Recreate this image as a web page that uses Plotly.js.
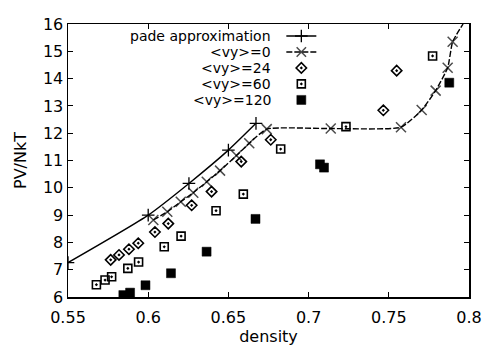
<!DOCTYPE html>
<html>
<head>
<meta charset="utf-8">
<script src="https://cdn.plot.ly/plotly-3.0.1.min.js"></script>
<style>html,body{margin:0;padding:0;background:#fff;}#chart{width:484px;height:348px;}</style>
</head>
<body>
<div id="chart"></div>
<script>
// Series names
const seriesNames = ['pade approximation', '<vy>=0', '<vy>=24', '<vy>=60', '<vy>=120'];

// pade approximation
const padeX = [0.55, 0.6, 0.6254, 0.65, 0.6672];
const padeY = [7.26, 9.0, 10.16, 11.38, 12.36];

// <vy>=0
const vy0X = [0.6032, 0.6119, 0.6203, 0.6281, 0.6365, 0.6448, 0.655, 0.663, 0.6739, 0.7138, 0.7576, 0.7705, 0.7792, 0.7867, 0.7898, 0.7963];
const vy0Y = [8.82, 9.12, 9.49, 9.82, 10.22, 10.63, 11.18, 11.63, 12.15, 12.17, 12.22, 12.85, 13.56, 14.4, 15.35, 16.0];

// <vy>=24
const vy24X = [0.5766, 0.5818, 0.588, 0.5938, 0.6042, 0.6125, 0.6271, 0.6395, 0.658, 0.6764, 0.7466, 0.7549];
const vy24Y = [7.36, 7.54, 7.75, 7.97, 8.38, 8.69, 9.36, 9.86, 10.96, 11.76, 12.84, 14.29];

// <vy>=60
const vy60X = [0.5677, 0.5731, 0.5772, 0.5873, 0.594, 0.61, 0.6205, 0.6423, 0.6593, 0.6826, 0.7233, 0.7773];
const vy60Y = [6.45, 6.62, 6.74, 7.05, 7.28, 7.84, 8.23, 9.16, 9.77, 11.42, 12.24, 14.83];

// <vy>=120
const vy120X = [0.5845, 0.5887, 0.5983, 0.6142, 0.6364, 0.6669, 0.7071, 0.7096, 0.7877];
const vy120Y = [6.07, 6.16, 6.43, 6.87, 7.66, 8.86, 10.86, 10.74, 13.85];

// Axis ticks
const xTicks = [0.55, 0.6, 0.65, 0.7, 0.75, 0.8];
const xTickLabels = ['0.55', '0.6', '0.65', '0.7', '0.75', '0.8'];
const yTicks = [6, 7, 8, 9, 10, 11, 12, 13, 14, 15, 16];

const FONT = 'DejaVu Sans, Arial, sans-serif';
const black = '#000';

// the final vy=0 point only continues the line out of the frame: no marker there
const vy0Sizes = vy0X.map((_, i) => (i === vy0X.length - 1 ? 0 : 10));

const traces = [
  {
    x: padeX, y: padeY, name: ' ', legend: 'legend',
    mode: 'lines+markers', line: {color: black, width: 1.4, shape: 'spline', smoothing: 0.6},
    marker: {symbol: 'cross-thin-open', size: 9, color: black, line: {color: black, width: 1.3}}
  },
  {
    x: vy0X, y: vy0Y, name: ' ', legend: 'legend2',
    mode: 'lines+markers', line: {color: black, width: 1.4, dash: '6px,2px', shape: 'spline', smoothing: 0.5},
    marker: {symbol: 'x-thin-open', size: vy0Sizes, color: black, line: {color: black, width: 1.5}}
  },
  {
    x: vy24X, y: vy24Y, name: ' ', legend: 'legend3',
    mode: 'markers',
    marker: {symbol: 'diamond-open-dot', size: 8, color: black, line: {color: black, width: 1.6}}
  },
  {
    x: vy60X, y: vy60Y, name: ' ', legend: 'legend4',
    mode: 'markers',
    marker: {symbol: 'square-open-dot', size: 8, color: black, line: {color: black, width: 1.6}}
  },
  {
    x: vy120X, y: vy120Y, name: ' ', legend: 'legend5',
    mode: 'markers',
    marker: {symbol: 'square', size: 9, color: black, line: {color: black, width: 0.5}}
  }
];

// legend rows (paper coordinates of plot area)
const legendRowY = [0.956, 0.8975, 0.839, 0.7805, 0.722];
const legendX = 0.532;
const legendTextX = 0.509;
const legendCommon = (yy) => ({
  x: legendX, y: yy, xanchor: 'left', yanchor: 'middle',
  bgcolor: 'rgba(0,0,0,0)', borderwidth: 0, font: {family: FONT, size: 8, color: black},
  itemwidth: 30
});

const annotations = seriesNames.map((n, i) => ({
  xref: 'paper', yref: 'paper', x: legendTextX, y: legendRowY[i],
  xanchor: 'right', yanchor: 'middle', showarrow: false,
  borderpad: 0,
  text: n.replace(/</g, '&lt;').replace(/>/g, '&gt;'),
  font: {family: FONT, size: 14, color: black}
}));

const layout = {
  width: 484, height: 348,
  margin: {l: 68, r: 15, t: 24, b: 51},
  paper_bgcolor: '#fff', plot_bgcolor: '#fff',
  showlegend: true,
  legend: legendCommon(legendRowY[0]),
  legend2: legendCommon(legendRowY[1]),
  legend3: legendCommon(legendRowY[2]),
  legend4: legendCommon(legendRowY[3]),
  legend5: legendCommon(legendRowY[4]),
  font: {family: FONT, size: 16, color: black},
  xaxis: {
    range: [0.55, 0.8], tickvals: xTicks, ticktext: xTickLabels,
    ticks: 'inside', ticklen: 5, tickwidth: 1, tickcolor: black,
    showline: true, linecolor: black, linewidth: 1.5, mirror: 'ticks',
    showgrid: false, zeroline: false, ticklabelstandoff: 5,
    tickfont: {family: FONT, size: 16, color: black},
    title: {text: 'density', font: {family: FONT, size: 16, color: black}, standoff: 0}
  },
  yaxis: {
    range: [6, 16], tickvals: yTicks,
    ticks: 'inside', ticklen: 5, tickwidth: 1, tickcolor: black,
    showline: true, linecolor: black, linewidth: 1.5, mirror: 'ticks',
    showgrid: false, zeroline: false,
    tickfont: {family: FONT, size: 16, color: black},
    title: {text: 'PV/NkT', font: {family: FONT, size: 16, color: black}, standoff: 12}
  },
  annotations: annotations
};

Plotly.newPlot('chart', traces, layout, {displayModeBar: false, staticPlot: true});
</script>
</body>
</html>
